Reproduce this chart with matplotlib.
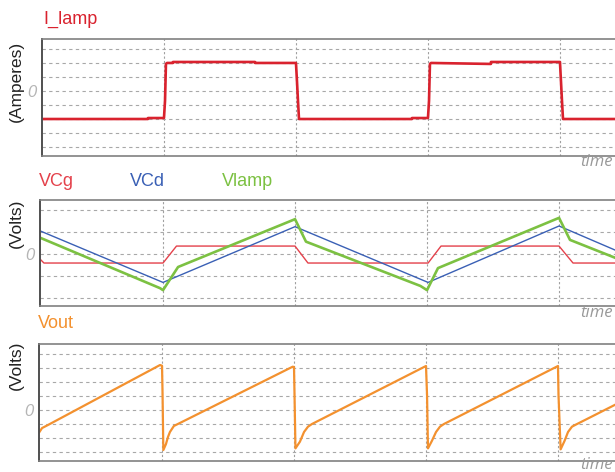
import matplotlib
matplotlib.use("Agg")
import matplotlib.pyplot as plt

# Dados (tempo em unidades da grade vertical)
t_ilamp = [0.076, 0.879, 0.879, 1.0, 1.008, 1.015, 1.023, 1.068, 1.068, 1.69, 1.69, 2.0, 2.008, 2.015, 2.023,
           2.879, 2.879, 3.0, 3.008, 3.015, 3.023, 3.477, 3.477, 4.0, 4.008, 4.015, 4.023, 4.417]
y_ilamp = [-2.0, -2.0, -1.93, -1.93, -0.71, 1.93, 2.0, 2.0, 2.07, 2.07, 2.0, 2.0, 0.64, -0.64, -2.0,
           -2.0, -1.93, -1.93, -0.71, 1.93, 2.0, 1.93, 2.07, 2.07, 0.64, -0.64, -2.0, -2.0]

t_vcg = [0.068, 0.098, 1.0, 1.102, 2.0, 2.098, 3.008, 3.106, 4.0, 4.106, 4.424]
y_vcg = [-0.23, -0.41, -0.41, 0.36, 0.36, -0.41, -0.41, 0.36, 0.36, -0.41, -0.41]

t_vcd = [0.068, 1.0, 2.0, 3.008, 4.0, 4.424]
y_vcd = [1.05, -1.29, 1.24, -1.29, 1.27, 0.18]

t_vlamp = [0.068, 0.977, 1.0, 1.114, 2.0, 2.083, 2.95, 3.0, 3.083, 4.0, 4.083, 4.424]
y_vlamp = [0.74, -1.55, -1.64, -0.59, 1.58, 0.56, -1.45, -1.64, -0.64, 1.64, 0.64, -0.17]

t_vout = [0.068, 0.091, 0.136, 0.985, 1.0, 1.004, 1.01, 1.03, 1.045, 1.06, 1.09, 1.12,
          1.99, 2.0, 2.004, 2.011, 2.045, 2.076, 2.106, 2.136,
          3.0, 3.008, 3.015, 3.045, 3.076, 3.106, 3.136,
          4.0, 4.004, 4.02, 4.05, 4.076, 4.106, 4.136, 4.43]
y_vout = [-1.62, -1.29, -1.07, 3.21, 3.16, 1.21, -2.86, -2.43, -1.93, -1.57, -1.14, -1.0,
          3.09, 3.07, 1.07, -2.74, -2.26, -1.57, -1.19, -1.0,
          3.14, 1.07, -2.74, -2.2, -1.57, -1.19, -1.0,
          3.14, 1.07, -2.81, -2.2, -1.57, -1.19, -1.04, 0.36]

W, H = 615, 472


# Função para configurar cada painel
def configurar_eixo(ax, xlim, ylim, yticks):
    ax.set_xlim(*xlim)
    ax.set_ylim(*ylim)
    ax.set_xticks([1, 2, 3, 4])
    ax.set_xticklabels([])
    ax.set_yticks(yticks)
    ax.set_yticklabels(["0" if v == 0 else "" for v in yticks],
                       fontstyle="italic", color="#b5b5b5", fontsize=12, family="Liberation Sans")
    ax.tick_params(length=0, pad=4)
    ax.grid(axis="y", color="#a8a8a8", linestyle=(0, (3, 3)), linewidth=0.8)
    ax.grid(axis="x", color="#a0a0a0", linestyle=(0, (2, 2)), linewidth=0.8)
    ax.set_axisbelow(True)
    ax.spines["right"].set_visible(False)
    ax.spines["left"].set_color("#505050")
    ax.spines["left"].set_linewidth(1.4)
    for lado in ["top", "bottom"]:
        ax.spines[lado].set_color("#808080")
        ax.spines[lado].set_linewidth(1.2)


def caixa(esq, topo, base):
    return [esq / W, 1 - base / H, (W - esq) / W, (base - topo) / H]


fig = plt.figure(figsize=(6.15, 4.72), dpi=100)
plt.rcParams["font.family"] = ["Liberation Sans", "DejaVu Sans"]

ax1 = fig.add_axes(caixa(42, 39, 156))
ax2 = fig.add_axes(caixa(40, 200, 306))
ax3 = fig.add_axes(caixa(39, 344, 461))

configurar_eixo(ax1, (0.076, 4.417), (-4.64, 3.71), [-4, -3, -2, -1, 0, 1, 2, 3])
configurar_eixo(ax2, (0.068, 4.424), (-2.36, 2.45), [-2, -1, 0, 1, 2])
configurar_eixo(ax3, (0.068, 4.432), (-3.64, 4.71), [-3, -2, -1, 0, 1, 2, 3, 4])

ax1.plot(t_ilamp, y_ilamp, color="#d9222e", linewidth=1.9)
ax2.plot(t_vcg, y_vcg, color="#e4414b", linewidth=1.0)
ax2.plot(t_vcd, y_vcd, color="#3a60b5", linewidth=1.0)
ax2.plot(t_vlamp, y_vlamp, color="#7cc142", linewidth=1.9)
ax3.plot(t_vout, y_vout, color="#f3912f", linewidth=1.6)


def texto(x, y, s, **kw):
    fig.text(x / W, 1 - y / H, s, **kw)


texto(43, 24, "I_lamp", color="#d9222e", fontsize=13, va="baseline")
texto(39, 186, "VCg", color="#e4414b", fontsize=13, va="baseline")
texto(130, 186, "VCd", color="#3a60b5", fontsize=13, va="baseline")
texto(222, 186, "Vlamp", color="#7cc142", fontsize=13, va="baseline")
texto(38, 328, "Vout", color="#f3912f", fontsize=13, va="baseline")

texto(16, 81, "(Amperes)", rotation=90, ha="center", va="center", fontsize=12.5, color="#222222")
texto(16, 223, "(Volts)", rotation=90, ha="center", va="center", fontsize=12.5, color="#222222")
texto(16, 365, "(Volts)", rotation=90, ha="center", va="center", fontsize=12.5, color="#222222")

for y in [162, 313, 465]:
    texto(613, y, "time", ha="right", va="center", fontsize=12, fontstyle="italic",
          color="#999999", family=["Open Sans", "DejaVu Sans"])

fig.savefig("out.png", dpi=100)
